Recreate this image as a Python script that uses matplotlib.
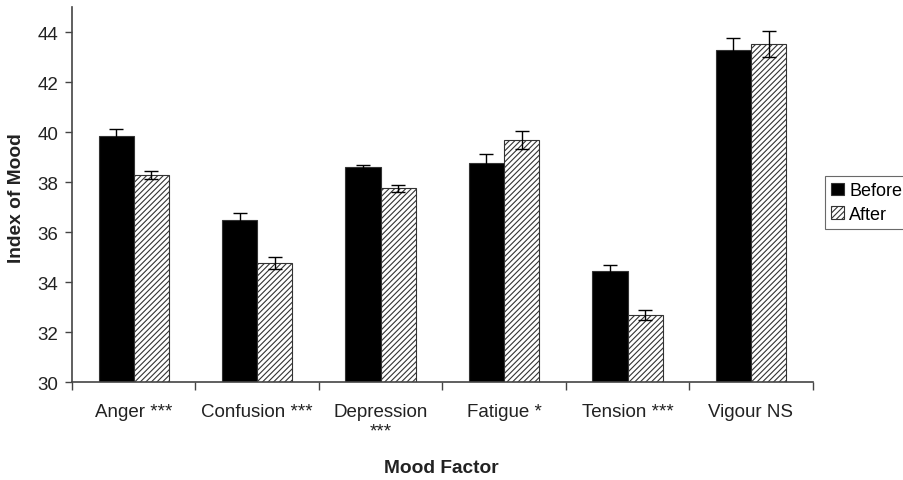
import matplotlib
matplotlib.use("Agg")
import matplotlib.pyplot as plt
import numpy as np

categories = ["Anger ***", "Confusion ***", "Depression\n***", "Fatigue *", "Tension ***", "Vigour NS"]
before = [39.84, 36.48, 38.59, 38.76, 34.45, 43.28]
before_err = [0.28, 0.27, 0.10, 0.35, 0.24, 0.47]
after = [38.28, 34.75, 37.75, 39.69, 32.68, 43.52]
after_err = [0.17, 0.24, 0.13, 0.35, 0.20, 0.52]
yticks = [30, 32, 34, 36, 38, 40, 42, 44]

plt.rcParams['font.family'] = ['Liberation Sans', 'DejaVu Sans']
plt.rcParams['hatch.linewidth'] = 0.8

fig = plt.figure(figsize=(9.04, 4.81), dpi=100)
ax = fig.add_axes([0.0796, 0.2037, 0.8194, 0.7793])

x = np.arange(len(categories))
w = 0.285
b1 = ax.bar(x - w / 2, before, w, color='black', edgecolor='#333333', linewidth=0.8,
            label='Before', zorder=2)
b2 = ax.bar(x + w / 2, after, w, color='white', edgecolor='#333333', hatch='//////', linewidth=0.8,
            label='After', zorder=2)
ax.errorbar(x - w / 2, before, yerr=before_err, fmt='none', ecolor='black', elinewidth=1.0,
            capsize=5, capthick=1.0, zorder=3)
ax.errorbar(x + w / 2, after, yerr=after_err, fmt='none', ecolor='black', elinewidth=1.0,
            capsize=5, capthick=1.0, zorder=3)

ax.set_ylim(30, 45)
ax.set_xlim(-0.5, len(categories) - 0.5)
ax.set_yticks(yticks)
ax.set_yticklabels([str(v) for v in yticks], fontsize=13.5, color='#222222')
ax.set_xticks(x)
ax.set_xticklabels(categories, fontsize=13.5, linespacing=1.2, color='#222222')
ax.tick_params(axis='x', length=0, pad=15)
ax.set_xticks(np.arange(-0.5, len(categories)), minor=True)
ax.tick_params(axis='x', which='minor', length=6, width=1, color='#444444')
ax.tick_params(axis='y', length=5, width=1, color='#444444', pad=5)

for s in ['top', 'right']:
    ax.spines[s].set_visible(False)
for s in ['left', 'bottom']:
    ax.spines[s].set_color('#444444')
    ax.spines[s].set_linewidth(1.2)

fig.text(17 / 904, 1 - 198 / 481, 'Index of Mood', rotation=90, fontsize=13.8, fontweight='bold',
         ha='center', va='center', color='#222222')
fig.text(441 / 904, 1 - 469 / 481, 'Mood Factor', fontsize=13.8, fontweight='bold',
         ha='center', va='center', color='#222222')

leg = fig.legend(handles=[b1, b2], labels=['Before', 'After'], loc='upper left',
                 bbox_to_anchor=(825 / 904, 1 - 177 / 481), fontsize=13, frameon=True, fancybox=False,
                 edgecolor='#444444', handlelength=0.7, handleheight=0.7, handletextpad=0.3,
                 borderpad=0.35, labelspacing=0.35, borderaxespad=0)
leg.get_frame().set_linewidth(0.8)

fig.savefig('out.png', dpi=100)
